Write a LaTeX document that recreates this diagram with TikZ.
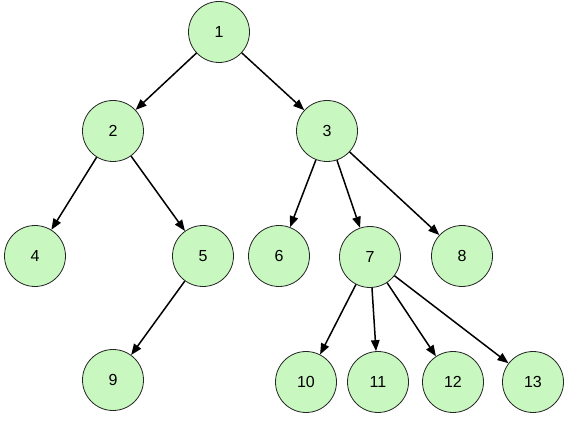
\documentclass[tikz,border=0pt]{standalone}
\usepackage{fontspec}
\setmainfont{Liberation Sans}
\usetikzlibrary{arrows.meta}
\definecolor{nodegreen}{RGB}{200,247,192}
\begin{document}
\begin{tikzpicture}[x=1pt,y=-1pt,
	vertex/.style={circle,draw=black!85,line width=0.8pt,fill=nodegreen,minimum size=61pt,inner sep=0pt,font=\fontsize{16}{19}\selectfont},
	edge/.style={line width=1.5pt,-{Triangle[length=11pt,width=8.5pt]}}]
	\useasboundingbox (0,0) rectangle (566,425);
	\node [vertex] (n1) at (219,32) {1};
	\node [vertex] (n2) at (113,131) {2};
	\node [vertex] (n3) at (327,131) {3};
	\node [vertex] (n4) at (35,256) {4};
	\node [vertex] (n5) at (203,256) {5};
	\node [vertex] (n6) at (279,256) {6};
	\node [vertex] (n7) at (370,257) {7};
	\node [vertex] (n8) at (462,256) {8};
	\node [vertex] (n9) at (113,380) {9};
	\node [vertex] (n10) at (306,382) {10};
	\node [vertex] (n11) at (378,382) {11};
	\node [vertex] (n12) at (453,382) {12};
	\node [vertex] (n13) at (533,382) {13};
	\draw [edge] (n1)--(n2);
	\draw [edge] (n1)--(n3);
	\draw [edge] (n2)--(n4);
	\draw [edge] (n2)--(n5);
	\draw [edge] (n3)--(n6);
	\draw [edge] (n3)--(n7);
	\draw [edge] (n3)--(n8);
	\draw [edge] (n5)--(n9);
	\draw [edge] (n7)--(n10);
	\draw [edge] (n7)--(n11);
	\draw [edge] (n7)--(n12);
	\draw [edge] (n7)--(n13);
\end{tikzpicture}
\end{document}
